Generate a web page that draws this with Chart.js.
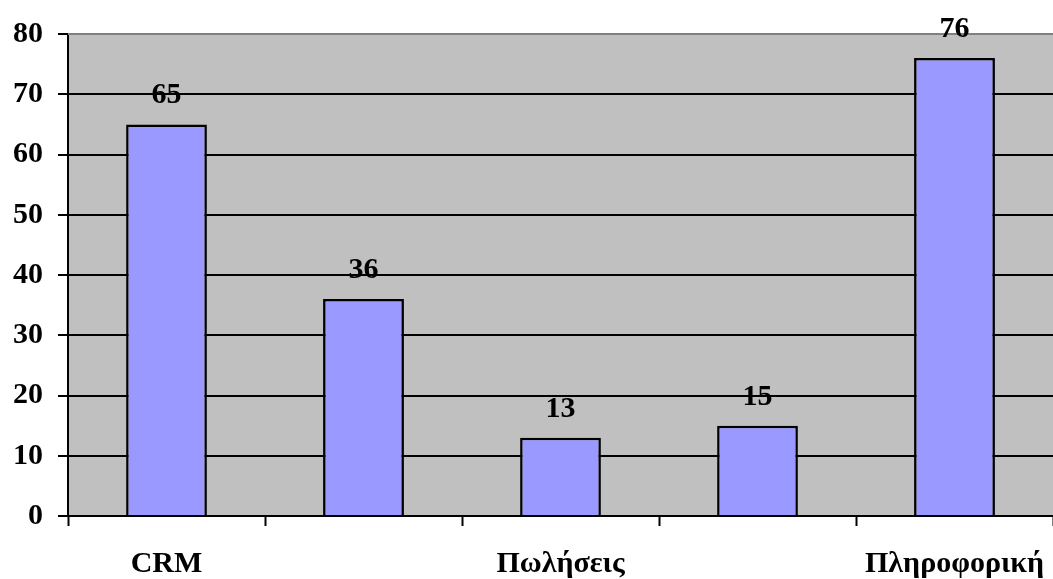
<!DOCTYPE html>
<html>
<head>
<meta charset="utf-8">
<script src="https://cdn.jsdelivr.net/npm/chart.js@4.4.1/dist/chart.umd.min.js"></script>
<style>
  html, body { margin: 0; padding: 0; background: #fff; }
  #wrap { width: 1053px; height: 579px; position: relative; }
</style>
</head>
<body>
<div id="wrap"><canvas id="grafico"></canvas></div>
<script>
const CATEGORIAS = ['CRM', '', 'Πωλήσεις', '', 'Πληροφορική'];
const VALORES = [65, 36, 13, 15, 76];
const Y_MIN = 0;
const Y_MAX = 80;
const Y_PASSO = 10;

const FONTE = { family: '"Liberation Serif", "Times New Roman", serif', size: 30, weight: 'bold' };

const fundoPlot = {
    id: 'fundoPlot',
    beforeDraw(chart) {
        const { ctx, chartArea: a } = chart;
        ctx.save();
        ctx.fillStyle = '#C0C0C0';
        ctx.fillRect(a.left, a.top, a.right - a.left, a.bottom - a.top);
        ctx.restore();
    },
    beforeDatasetsDraw(chart) {
        const { ctx, chartArea: a } = chart;
        ctx.save();
        ctx.strokeStyle = '#808080';
        ctx.lineWidth = 2;
        ctx.beginPath();
        ctx.moveTo(a.left, a.top);
        ctx.lineTo(a.right, a.top);
        ctx.stroke();
        ctx.restore();
    }
};

const rotulosValores = {
    id: 'rotulosValores',
    afterDatasetsDraw(chart) {
        const { ctx } = chart;
        const meta = chart.getDatasetMeta(0);
        ctx.save();
        ctx.fillStyle = '#000';
        ctx.font = `${FONTE.weight} ${FONTE.size}px ${FONTE.family}`;
        ctx.textAlign = 'center';
        ctx.textBaseline = 'alphabetic';
        meta.data.forEach((bar, i) => {
            ctx.fillText(String(VALORES[i]), bar.x, bar.y - 21);
        });
        ctx.restore();
    }
};

new Chart(document.getElementById('grafico').getContext('2d'), {
    type: 'bar',
    data: {
        labels: CATEGORIAS,
        datasets: [{
            data: VALORES,
            backgroundColor: '#9999FF',
            borderColor: '#000',
            borderWidth: 2.5,
            barPercentage: 0.41,
            categoryPercentage: 1
        }]
    },
    options: {
        responsive: true,
        maintainAspectRatio: false,
        animation: false,
        layout: { padding: { top: 34, right: 0, left: 0, bottom: 0 } },
        plugins: {
            legend: { display: false },
            tooltip: { enabled: false }
        },
        scales: {
            x: {
                offset: true,
                grid: {
                    offset: true,
                    drawOnChartArea: false,
                    drawTicks: true,
                    tickLength: 10,
                    tickColor: '#000',
                    tickWidth: 2
                },
                border: { display: true, color: '#000', width: 2 },
                ticks: {
                    color: '#000',
                    font: FONTE,
                    autoSkip: false,
                    maxRotation: 0,
                    padding: 20
                },
                afterFit(scale) {
                    scale.height = 63;
                    scale.paddingLeft = 0;
                    scale.paddingRight = 0;
                }
            },
            y: {
                min: Y_MIN,
                max: Y_MAX,
                grid: {
                    color: ctx => ctx.tick && ctx.tick.value === Y_MAX ? '#808080' : '#000',
                    lineWidth: 2,
                    tickLength: 10,
                    tickColor: '#000',
                    tickWidth: 2
                },
                border: { display: true, color: '#000', width: 2 },
                ticks: {
                    stepSize: Y_PASSO,
                    color: '#000',
                    font: FONTE,
                    padding: 15
                },
                afterFit(scale) { scale.width = 68; }
            }
        }
    },
    plugins: [fundoPlot, rotulosValores]
});
</script>
</body>
</html>
